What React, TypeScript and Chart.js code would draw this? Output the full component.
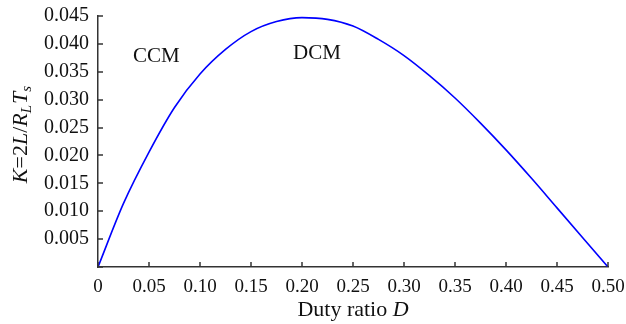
import React, { useEffect, useRef } from 'react';
import { Chart, registerables } from 'chart.js';

Chart.register(...registerables);

const dutyRatio = [0, 0.025, 0.05, 0.075, 0.1, 0.125, 0.15, 0.175, 0.2, 0.225, 0.25, 0.275, 0.3, 0.325, 0.35, 0.375, 0.4, 0.425, 0.45, 0.475, 0.5];
const kValues = [0, 0.0114, 0.0206, 0.0286, 0.0346, 0.039, 0.0422, 0.044, 0.0447, 0.0444, 0.0432, 0.0408, 0.0379, 0.0343, 0.0303, 0.0258, 0.021, 0.0159, 0.0106, 0.0053, 0];

const xTickStep = 0.05;
const yTickStep = 0.005;

const regionLabels = ['CCM', 'DCM'];
const regionLabelD = [0.0572, 0.2147];
const regionLabelK = [0.0377, 0.0383];

const SERIF = '"Liberation Serif", "DejaVu Serif", serif';

const decorPlugin = {
  id: 'decor',
  afterDraw(chart: any) {
    const ctx = chart.ctx as CanvasRenderingContext2D;
    const xs = chart.scales.x;
    const ys = chart.scales.y;
    const area = chart.chartArea;
    ctx.save();
    // inward ticks
    ctx.strokeStyle = '#333';
    ctx.lineWidth = 1.5;
    xs.ticks.forEach((t: any) => {
      const px = Math.round(xs.getPixelForValue(t.value));
      ctx.beginPath();
      ctx.moveTo(px, area.bottom);
      ctx.lineTo(px, area.bottom - 5);
      ctx.stroke();
    });
    ys.ticks.forEach((t: any) => {
      const py = Math.round(ys.getPixelForValue(t.value));
      ctx.beginPath();
      ctx.moveTo(area.left, py);
      ctx.lineTo(area.left + 5, py);
      ctx.stroke();
    });

    // region labels
    ctx.fillStyle = '#111';
    ctx.font = `21px ${SERIF}`;
    ctx.textAlign = 'center';
    ctx.textBaseline = 'middle';
    regionLabels.forEach((lab, i) => {
      ctx.fillText(lab, xs.getPixelForValue(regionLabelD[i]), ys.getPixelForValue(regionLabelK[i]));
    });

    // x title
    const fs = 22;
    const normal = `${fs}px ${SERIF}`;
    const italic = `italic ${fs}px ${SERIF}`;
    ctx.textAlign = 'left';
    ctx.textBaseline = 'alphabetic';
    ctx.font = normal;
    const w1 = ctx.measureText('Duty ratio ').width;
    ctx.font = italic;
    const w2 = ctx.measureText('D').width;
    const cx = (area.left + area.right) / 2;
    const sx = cx - (w1 + w2) / 2;
    const by = 316;
    ctx.font = normal;
    ctx.fillText('Duty ratio ', sx, by);
    ctx.font = italic;
    ctx.fillText('D', sx + w1, by);

    // y title (rich text, rotated)
    const segs = [
      { t: 'K', it: true, sub: false },
      { t: '=2', it: false, sub: false },
      { t: 'L', it: true, sub: false },
      { t: '/', it: false, sub: false },
      { t: 'R', it: true, sub: false },
      { t: 'L', it: true, sub: true },
      { t: 'T', it: true, sub: false },
      { t: 's', it: true, sub: true },
    ];
    const yfs = 22;
    const subfs = 15;
    const fontFor = (s: any) => `${s.it ? 'italic ' : ''}${s.sub ? subfs : yfs}px ${SERIF}`;
    let total = 0;
    const widths = segs.map((s) => {
      ctx.font = fontFor(s);
      const w = ctx.measureText(s.t).width;
      total += w;
      return w;
    });
    ctx.translate(27, 135);
    ctx.rotate(-Math.PI / 2);
    let px = -total / 2;
    segs.forEach((s, i) => {
      ctx.font = fontFor(s);
      ctx.fillText(s.t, px, s.sub ? 4 : 0);
      px += widths[i] + (s.sub ? 1 : 0);
    });
    ctx.restore();
  },
};

export default function App() {
  const ref = useRef<HTMLCanvasElement>(null);
  useEffect(() => {
    document.body.style.margin = '0';
    if (!ref.current) return;
    const chart = new Chart(ref.current, {
      type: 'scatter',
      data: {
        datasets: [
          {
            data: dutyRatio.map((d, i) => ({ x: d, y: kValues[i] })),
            showLine: true,
            borderColor: '#0000ff',
            borderWidth: 1.6,
            pointRadius: 0,
            cubicInterpolationMode: 'monotone',
            fill: false,
          },
        ],
      },
      options: {
        responsive: false,
        animation: false,
        layout: { padding: { left: 0, right: 18, top: 16, bottom: 0 } },
        plugins: { legend: { display: false }, tooltip: { enabled: false } },
        scales: {
          x: {
            type: 'linear',
            min: 0,
            max: 0.5,
            border: { display: true, color: '#333', width: 1.5 },
            grid: { display: false, drawTicks: false },
            ticks: {
              stepSize: xTickStep,
              padding: 9,
              color: '#111',
              font: { family: SERIF, size: 19 },
              maxRotation: 0,
              autoSkip: false,
              callback: (v: any) => (Math.abs(v) < 1e-9 ? '0' : Number(v).toFixed(2)),
            },
            afterFit: (s: any) => {
              s.height = 57;
              s.paddingLeft = 0;
              s.paddingRight = 0;
            },
          },
          y: {
            type: 'linear',
            min: 0,
            max: 0.045,
            border: { display: true, color: '#333', width: 1.5 },
            grid: { display: false, drawTicks: false },
            ticks: {
              stepSize: yTickStep,
              padding: 9,
              color: '#111',
              font: { family: SERIF, size: 20 },
              autoSkip: false,
              callback: (v: any) => (Math.abs(v) < 1e-9 ? '' : Number(v).toFixed(3)),
            },
            afterFit: (s: any) => {
              s.width = 98;
              s.paddingTop = 0;
              s.paddingBottom = 0;
            },
          },
        },
      },
      plugins: [decorPlugin],
    });
    return () => chart.destroy();
  }, []);
  return (
    <div style={{ width: 626, height: 324 }}>
      <canvas ref={ref} width={626} height={324} />
    </div>
  );
}
